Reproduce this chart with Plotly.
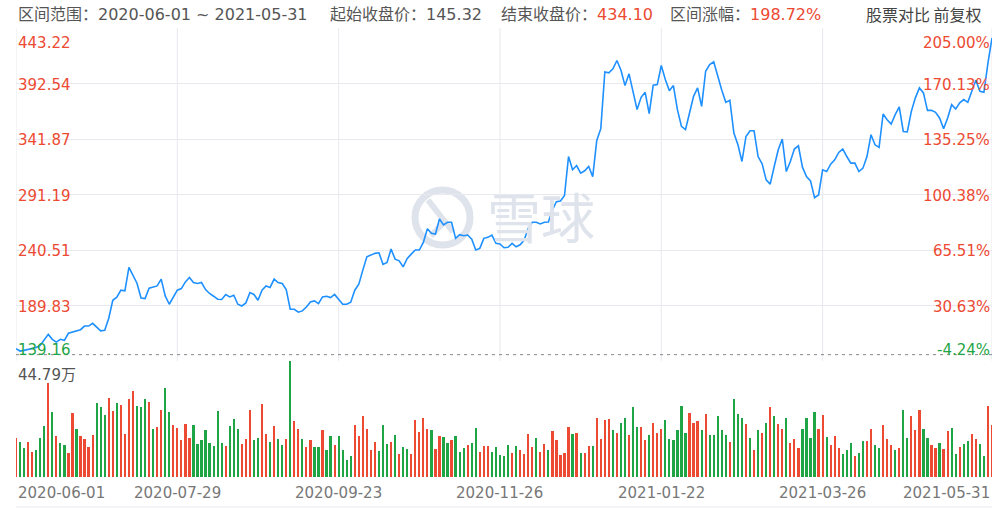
import plotly.graph_objects as go

# ---------------- data ----------------
date_labels = ["2020-06-01", "2020-07-29", "2020-09-23", "2020-11-26",
               "2021-01-22", "2021-03-26", "2021-05-31"]
date_label_index = [0, 40, 80, 120, 160, 200, 242]

close = [
    150.8, 148.6, 149.2, 150.1, 150.8, 151.9, 153.8, 159.3, 163.8, 159.3,
    156.8, 159.3, 158.4, 164.8, 165.7, 166.6, 168.1, 171.4, 171.4, 173.9,
    170.2, 167.0, 167.5, 178.5, 194.9, 197.7, 204.1, 203.5, 224.9, 217.8,
    210.5, 197.0, 196.5, 205.9, 207.1, 208.0, 214.2, 198.9, 191.3, 198.0,
    204.1, 205.6, 211.7, 215.7, 211.1, 210.2, 211.1, 204.7, 201.1, 198.6,
    195.9, 195.6, 200.2, 198.0, 199.5, 191.3, 189.7, 192.5, 202.0, 200.2,
    194.9, 204.1, 208.0, 206.6, 214.2, 211.1, 210.2, 204.7, 186.7, 186.7,
    184.0, 185.2, 188.8, 193.4, 194.3, 191.9, 198.0, 198.6, 197.4, 200.2,
    195.9, 191.3, 191.3, 193.1, 204.1, 209.6, 222.4, 234.6, 236.1, 237.7,
    238.2, 227.6, 229.4, 241.6, 232.4, 230.9, 225.4, 233.1, 237.0, 240.7,
    240.7, 247.7, 260.2, 256.0, 255.3, 269.0, 263.6, 266.0, 266.0, 251.4,
    254.7, 253.8, 254.4, 250.7, 240.7, 242.2, 251.4, 252.3, 254.4, 246.8,
    246.2, 242.8, 243.2, 246.8, 243.7, 245.5, 249.8, 260.5, 266.0, 266.0,
    264.5, 266.0, 266.3, 277.3, 284.9, 285.5, 290.4, 326.0, 313.9, 317.8,
    310.8, 313.0, 316.9, 307.7, 340.7, 351.4, 403.2, 402.3, 406.0, 413.6,
    404.7, 390.7, 401.4, 385.5, 368.8, 380.0, 384.6, 365.1, 391.0, 391.6,
    409.0, 396.2, 386.1, 390.7, 368.8, 353.5, 350.5, 365.7, 380.9, 388.6,
    371.8, 403.8, 409.9, 412.4, 399.2, 386.4, 375.4, 377.4, 347.4, 336.7,
    321.5, 344.3, 349.5, 349.5, 326.0, 319.4, 304.7, 300.8, 316.9, 332.2,
    342.0, 312.3, 321.5, 332.8, 335.8, 316.3, 307.7, 303.8, 288.5, 291.0,
    313.9, 312.3, 319.1, 323.0, 329.7, 332.8, 326.0, 320.0, 320.0, 312.3,
    315.4, 326.0, 345.9, 336.7, 334.3, 364.8, 359.6, 355.7, 364.2, 371.2,
    348.9, 348.4, 367.2, 379.5, 388.6, 384.0, 368.1, 368.1, 366.3, 361.2,
    351.4, 361.2, 373.3, 369.4, 374.9, 377.9, 375.4, 385.5, 395.6, 385.5,
    384.6, 411.5, 434.10,
]

# volume in 万 (10k shares)
volume = [
    15.1, 13.5, 11.4, 13.5, 9.8, 10.6, 15.1, 19.6, 36.5, 25.1,
    15.7, 13.0, 12.3, 9.5, 24.9, 18.7, 15.7, 14.7, 11.8, 16.1,
    28.6, 27.0, 24.1, 30.5, 25.4, 28.6, 28.0, 16.5, 30.1, 33.2,
    27.4, 27.0, 30.1, 28.9, 18.6, 19.2, 25.8, 34.3, 25.1, 20.0,
    18.9, 14.5, 20.6, 15.2, 20.0, 12.8, 14.5, 18.1, 13.3, 11.9,
    25.4, 13.2, 12.0, 19.6, 22.3, 18.6, 12.9, 14.9, 25.8, 14.2,
    15.2, 28.1, 16.8, 13.5, 19.6, 14.6, 12.5, 14.6, 44.79, 21.6,
    18.7, 14.6, 11.6, 14.2, 11.6, 11.6, 18.1, 10.6, 15.7, 12.5,
    15.7, 10.6, 6.8, 8.1, 20.3, 15.9, 23.7, 18.7, 10.6, 13.5,
    10.0, 20.3, 12.7, 13.5, 16.1, 9.1, 11.6, 10.7, 9.1, 22.2,
    17.4, 23.0, 18.7, 18.3, 11.0, 15.9, 15.5, 13.2, 14.2, 15.7,
    9.7, 11.2, 12.5, 13.3, 19.1, 9.7, 12.0, 12.0, 9.7, 11.6,
    8.7, 8.1, 12.3, 9.3, 11.9, 10.6, 9.1, 16.8, 11.6, 15.2,
    9.7, 12.7, 10.6, 17.7, 14.2, 8.7, 9.3, 19.3, 16.8, 17.2,
    9.3, 9.3, 11.9, 11.9, 22.8, 14.9, 22.2, 22.6, 18.3, 17.2,
    20.9, 22.8, 16.4, 27.0, 19.3, 19.3, 14.2, 16.1, 21.0, 17.2,
    18.7, 21.9, 14.9, 14.5, 18.1, 27.4, 17.2, 24.9, 20.9, 21.5,
    18.3, 24.5, 16.1, 16.1, 23.6, 18.3, 16.4, 13.5, 30.0, 24.5,
    23.0, 20.4, 15.1, 10.6, 18.1, 17.2, 21.0, 27.0, 23.6, 20.6,
    18.7, 23.0, 13.3, 14.6, 11.4, 18.7, 23.0, 15.1, 25.1, 18.4,
    23.8, 15.5, 12.5, 15.7, 11.2, 9.1, 10.6, 13.2, 8.0, 9.5,
    13.8, 13.8, 18.4, 12.5, 11.2, 20.3, 14.6, 12.5, 10.6, 11.2,
    25.8, 15.1, 23.6, 18.3, 25.8, 18.7, 15.1, 12.5, 11.2, 13.2,
    10.7, 17.7, 19.1, 9.1, 11.6, 12.7, 13.8, 16.8, 14.9, 12.7,
    8.0, 27.4, 20.0,
]

# day direction: r = up (red), g = down (green)
direction = (
    "rggrrgggrg" "rggrrgrrrr" "gggrrgrrrr" "gggrgrrggr" "rrrrgggggg"
    "ggrgggrrrg" "grrgrggrgr" "rgrrggrggr" "ggggrrrrrr" "gggrgrggrr"
    "rrrgrrggrg" "ggrggrrrgg" "gggrgrrrrg" "rrgrrrrrgr" "grrgrrrrgr"
    "ggrggrrgrr" "rggggggrrr" "grgggggrgg" "grgrgrgrgr" "rgrrrggggr"
    "rgrrrgggrg" "grrggrrrgr" "ggrrrggrrg" "rrggrggrrg" "grr"
)

price_ticks = [443.22, 392.54, 341.87, 291.19, 240.51, 189.83, 139.16]
pct_labels = ["205.00%", "170.13%", "135.25%", "100.38%", "65.51%", "30.63%", "-4.24%"]
start_close = 145.32
end_close = 434.10
range_change = "198.72%"
range_start = "2020-06-01"
range_end = "2021-05-31"
volume_max_label = "44.79万"
volume_max = 44.79

# ---------------- styling ----------------
RED = "#ec4a32"
GREEN = "#1fa546"
BLUE = "#1e90ff"
GRID = "#e8e9ef"
LATIN = "DejaVu Sans, Noto Sans CJK SC, sans-serif"
CJK = "Noto Sans CJK SC, sans-serif"

W, H = 1000, 509
ML, MR, MT, MB = 16, 8, 28, 32
plot_w = W - ML - MR
plot_h = H - MT - MB


def px_x(p):
    return (p - ML) / plot_w


def px_y(p):
    return (H - MB - p) / plot_h


n = len(close)
idx = list(range(n))
bar_colors = [RED if d == "r" else GREEN for d in direction]

fig = go.Figure()
fig.add_trace(go.Scatter(
    x=idx, y=close, mode="lines",
    line=dict(color=BLUE, width=1.6),
    xaxis="x", yaxis="y", hoverinfo="skip", showlegend=False,
))
fig.add_trace(go.Bar(
    x=idx, y=volume, marker=dict(color=bar_colors, line=dict(width=0)),
    width=0.55, xaxis="x2", yaxis="y2", hoverinfo="skip", showlegend=False,
))

price_dom0 = px_y(361.4)
vol_dom1 = px_y(360.8)

fig.update_layout(
    width=W, height=H,
    margin=dict(l=ML, r=MR, t=MT, b=MB, pad=0),
    paper_bgcolor="white", plot_bgcolor="white",
    showlegend=False,
    bargap=0,
    xaxis=dict(domain=[0, 1], range=[0, n - 1], anchor="y",
               showgrid=False, showticklabels=False, zeroline=False,
               showline=False, ticks=""),
    yaxis=dict(domain=[price_dom0, 1], range=[price_ticks[-1], price_ticks[0]],
               tickvals=price_ticks, showticklabels=False, showgrid=True,
               gridcolor=GRID, gridwidth=1, zeroline=False, showline=False,
               ticks=""),
    xaxis2=dict(domain=[0, 1], range=[0, n - 1], anchor="y2", matches="x",
                showgrid=False, showticklabels=False, zeroline=False,
                showline=False, ticks=""),
    yaxis2=dict(domain=[0, vol_dom1], range=[0, volume_max],
                showgrid=False, showticklabels=False, zeroline=False,
                showline=False, ticks=""),
)

shapes = []
# vertical grid lines incl. left/right borders
for i in date_label_index:
    shapes.append(dict(type="line", xref="x", yref="paper", x0=i, x1=i,
                       y0=0, y1=1, line=dict(color=GRID, width=1), layer="below"))
# bottom rule
shapes.append(dict(type="line", xref="paper", yref="paper", x0=0, x1=1,
                   y0=px_y(507), y1=px_y(507), line=dict(color=GRID, width=1)))
# start-price dashed reference
shapes.append(dict(type="line", xref="paper", yref="y", x0=0, x1=1,
                   y0=start_close, y1=start_close,
                   line=dict(color="#888888", width=1, dash="3px,4px")))
# watermark logo circle + strokes
WM = "#dfe3eb"
shapes.append(dict(type="circle", xref="paper", yref="paper",
                   x0=px_x(415), x1=px_x(470), y0=px_y(245), y1=px_y(190),
                   line=dict(color=WM, width=7), layer="below"))
shapes.append(dict(type="line", xref="paper", yref="paper",
                   x0=px_x(428), x1=px_x(453), y0=px_y(200), y1=px_y(232),
                   line=dict(color=WM, width=6), layer="below"))
shapes.append(dict(type="line", xref="paper", yref="paper",
                   x0=px_x(431), x1=px_x(444), y0=px_y(236), y1=px_y(222),
                   line=dict(color=WM, width=6), layer="below"))
fig.update_layout(shapes=shapes)

ann = []
# watermark text
ann.append(dict(text="雪球", xref="paper", yref="paper",
                x=px_x(541), y=px_y(215), xanchor="center", yanchor="middle",
                showarrow=False, font=dict(family=CJK, size=54, color=WM)))

# left price labels and right percentage labels
last = len(price_ticks) - 1
for k, (v, pl) in enumerate(zip(price_ticks, pct_labels)):
    col = GREEN if v < start_close else RED
    if k == 0:
        ya, ys = "top", -4
    elif k == last:
        ya, ys = "bottom", 0
    else:
        ya, ys = "middle", -1
    ann.append(dict(text=f"{v:.2f}", xref="paper", yref="y", x=0, y=v,
                    xanchor="left", yanchor=ya, yshift=ys, showarrow=False,
                    font=dict(family=LATIN, size=15, color=col)))
    ann.append(dict(text=pl, xref="paper", yref="y", x=1, y=v,
                    xanchor="right", yanchor=ya, yshift=ys, showarrow=False,
                    font=dict(family=LATIN, size=15, color=col)))

# volume max label
ann.append(dict(text=volume_max_label, xref="paper", yref="paper", x=0,
                y=px_y(375), xanchor="left", yanchor="middle", showarrow=False,
                font=dict(family=LATIN, size=15, color="#555555")))

# date labels
for k, (i, lab) in enumerate(zip(date_label_index, date_labels)):
    xa = "left" if k == 0 else ("right" if k == len(date_labels) - 1 else "center")
    ann.append(dict(text=lab, xref="x", yref="paper", x=i, y=px_y(493),
                    xanchor=xa, yanchor="middle", showarrow=False,
                    font=dict(family=LATIN, size=15, color="#777777")))

# header
HEAD = "#555555"
hy = px_y(14)
ann.append(dict(text=f"区间范围：{range_start} ~ {range_end}", xref="paper",
                yref="paper", x=px_x(16), y=hy, xanchor="left", yanchor="middle",
                showarrow=False, font=dict(family=LATIN, size=16, color=HEAD)))
ann.append(dict(text=f"起始收盘价：{start_close:.2f}", xref="paper",
                yref="paper", x=px_x(328), y=hy, xanchor="left", yanchor="middle",
                showarrow=False, font=dict(family=LATIN, size=16, color=HEAD)))
ann.append(dict(text=f"结束收盘价：<span style='color:{RED}'>{end_close:.2f}</span>",
                xref="paper", yref="paper", x=px_x(499), y=hy, xanchor="left",
                yanchor="middle", showarrow=False,
                font=dict(family=LATIN, size=16, color=HEAD)))
ann.append(dict(text=f"区间涨幅：<span style='color:{RED}'>{range_change}</span>",
                xref="paper", yref="paper", x=px_x(668), y=hy, xanchor="left",
                yanchor="middle", showarrow=False,
                font=dict(family=LATIN, size=16, color=HEAD)))
ann.append(dict(text="股票对比 前复权", xref="paper", yref="paper",
                x=px_x(984), y=hy, xanchor="right", yanchor="middle",
                showarrow=False, font=dict(family=CJK, size=16, color="#444444")))

fig.update_layout(annotations=ann)

fig.write_html(
    "out.html",
    config={"displayModeBar": False},
    post_script="document.body.style.margin='0';document.body.style.padding='0';",
)
